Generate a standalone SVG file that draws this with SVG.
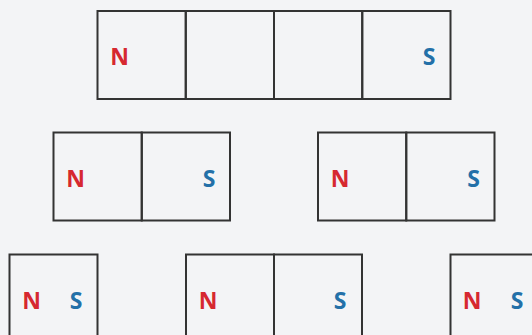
<svg xmlns="http://www.w3.org/2000/svg" width="532" height="335" viewBox="0 0 532 335">
<style>
.cell{fill:none;stroke:#333;stroke-width:2}
.t{font-family:"Open Sans","Noto Sans","Liberation Sans",sans-serif;font-weight:bold;font-size:23px;text-anchor:middle}
.n{fill:#d62830}
.s{fill:#2370a8}
</style>
<rect width="532" height="335" fill="#f3f4f6"/>
<g id="magnet-top">
<rect class="cell" x="97.5" y="11" width="88.25" height="88"/>
<rect class="cell" x="185.75" y="11" width="88.25" height="88"/>
<rect class="cell" x="274" y="11" width="88.25" height="88"/>
<rect class="cell" x="362.25" y="11" width="88.25" height="88"/>
<text class="t n" x="119.5" y="65">N</text>
<text class="t s" x="429" y="65">S</text>
</g>
<g id="magnet-mid-left">
<rect class="cell" x="53.5" y="132.5" width="88.25" height="88"/>
<rect class="cell" x="141.75" y="132.5" width="88.25" height="88"/>
<text class="t n" x="75.5" y="187">N</text>
<text class="t s" x="209" y="187">S</text>
</g>
<g id="magnet-mid-right">
<rect class="cell" x="318" y="132.5" width="88.25" height="88"/>
<rect class="cell" x="406.25" y="132.5" width="88.25" height="88"/>
<text class="t n" x="340" y="187">N</text>
<text class="t s" x="473.5" y="187">S</text>
</g>
<g id="magnet-bot-left">
<rect class="cell" x="9.5" y="254.5" width="88" height="88"/>
<text class="t n" x="31.5" y="309">N</text>
<text class="t s" x="76" y="309">S</text>
</g>
<g id="magnet-bot-mid">
<rect class="cell" x="186" y="254.5" width="88" height="88"/>
<rect class="cell" x="274" y="254.5" width="88" height="88"/>
<text class="t n" x="208" y="309">N</text>
<text class="t s" x="340" y="309">S</text>
</g>
<g id="magnet-bot-right">
<rect class="cell" x="450.5" y="254.5" width="88" height="88"/>
<text class="t n" x="472" y="309">N</text>
<text class="t s" x="517" y="309">S</text>
</g>
<g id="connectors"></g>
</svg>
